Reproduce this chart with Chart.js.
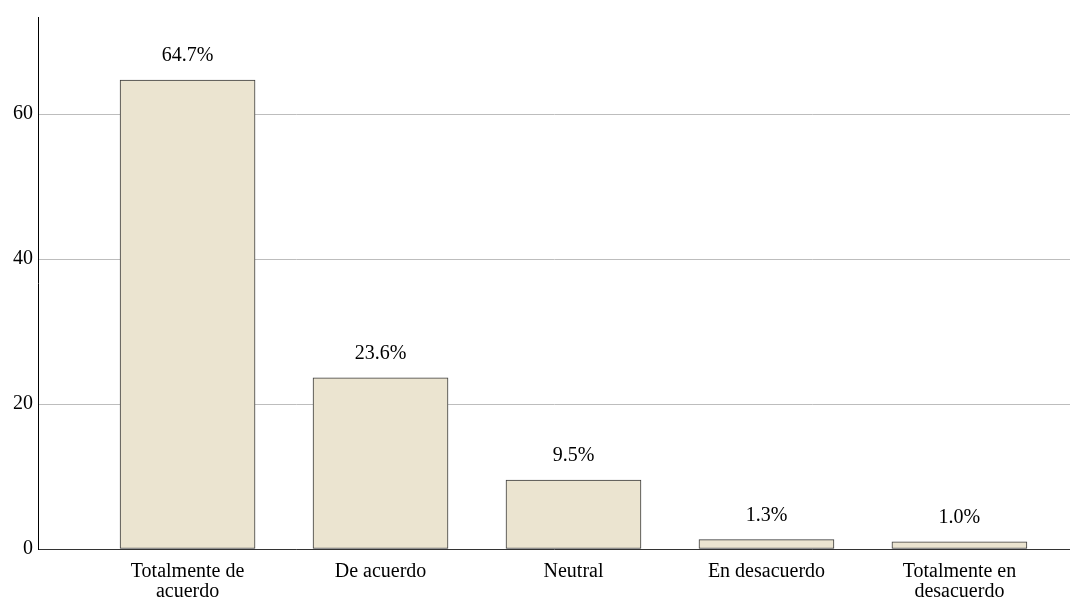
<!DOCTYPE html>
<html>
<head>
<meta charset="utf-8">
<script src="https://cdn.jsdelivr.net/npm/chart.js@4"></script>
<style>
  html, body { margin: 0; padding: 0; background: #ffffff; }
  #wrap { width: 1070px; height: 599px; }
</style>
</head>
<body>
<div id="wrap"><canvas id="c" width="1070" height="599"></canvas></div>
<script>
// Data
const categories = [["Totalmente de", "acuerdo"], "De acuerdo", "Neutral", "En desacuerdo", ["Totalmente en", "desacuerdo"]];
const percents = [64.7, 23.6, 9.5, 1.3, 1.0];
const yTicks = [0, 20, 40, 60];

const FONT = "'Liberation Serif', 'DejaVu Serif', serif";

// percentage labels above the bars
const valueLabels = {
  id: "valueLabels",
  afterDatasetsDraw(chart) {
    const ctx = chart.ctx;
    const meta = chart.getDatasetMeta(0);
    ctx.save();
    ctx.font = "20px " + FONT;
    ctx.fillStyle = "#000";
    ctx.textAlign = "center";
    ctx.textBaseline = "middle";
    meta.data.forEach((bar, i) => {
      ctx.fillText(percents[i].toFixed(1) + "%", bar.x, bar.y - 24);
    });
    ctx.restore();
  }
};

const chart = new Chart(document.getElementById("c").getContext("2d"), {
  type: "bar",
  data: {
    datasets: [{
      data: percents.map((v, i) => ({ x: i, y: v })),
      backgroundColor: "#ebe4d0",
      borderColor: "#3a3a3a",
      borderWidth: 1,
      borderSkipped: false,
      barThickness: 135
    }]
  },
  options: {
    responsive: false,
    animation: false,
    layout: { padding: { top: 13, right: 0, left: 0, bottom: 0 } },
    plugins: { legend: { display: false }, tooltip: { enabled: false } },
    scales: {
      x: {
        type: "linear",
        offset: false,
        min: -0.775,
        max: 4.573,
        afterBuildTicks: (ax) => { ax.ticks = categories.map((c, i) => ({ value: i })); },
        afterFit: (ax) => { ax.height = 50; },
        grid: { display: false, drawTicks: false },
        border: { display: true, color: "#333", width: 1 },
        ticks: {
          autoSkip: false,
          maxRotation: 0,
          padding: 13,
          color: "#000",
          font: { family: FONT, size: 20, lineHeight: 1.0 },
          callback: (v) => categories[v]
        }
      },
      y: {
        min: 0,
        max: 73.4,
        afterBuildTicks: (ax) => { ax.ticks = yTicks.map(v => ({ value: v })); },
        afterFit: (ax) => { ax.width = 38; },
        grid: { color: "#bdbdbd", lineWidth: 1, drawTicks: false },
        border: { display: true, color: "#000", width: 1 },
        ticks: {
          padding: 5,
          color: "#000",
          font: { family: FONT, size: 20 }
        }
      }
    }
  },
  plugins: [valueLabels]
});
</script>
</body>
</html>
